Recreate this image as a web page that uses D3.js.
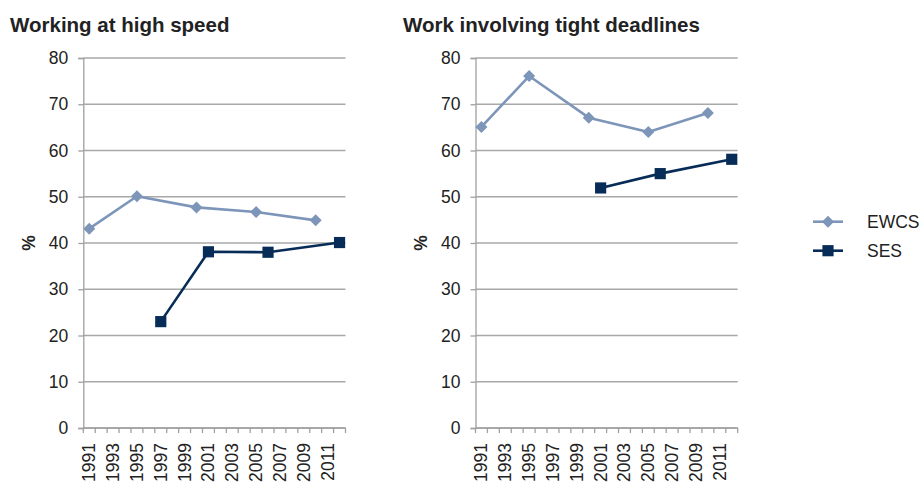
<!DOCTYPE html>
<html>
    <head>
        <meta charset="utf-8">
        <script src="https://cdn.jsdelivr.net/npm/d3@7/dist/d3.min.js"></script>
        <style type="text/css">
            body{
                margin: 0;
                padding: 0;
                background-color: #fff;
            }
            svg text{ font-family: "Liberation Sans", Arial, sans-serif; fill: #222; }
        </style>
    </head>
    <body>
        <svg id='chart' width='922' height='482'></svg>

        <script>
        /* data */
        var years = d3.range(1991, 2013);
        var yearLabels = [1991, 1993, 1995, 1997, 1999, 2001, 2003, 2005, 2007, 2009, 2011];
        var yTicks = [0, 10, 20, 30, 40, 50, 60, 70, 80];
        var titles = ['Working at high speed', 'Work involving tight deadlines'];
        var seriesNames = ['EWCS', 'SES'];

        var speedEWCS = [[1991, 43.1], [1995, 50.1], [2000, 47.7], [2005, 46.7], [2010, 44.9]];
        var speedSES = [[1997, 23.0], [2001, 38.1], [2006, 38.0], [2012, 40.1]];
        var deadlineEWCS = [[1991, 65.1], [1995, 76.1], [2000, 67.1], [2005, 64.0], [2010, 68.1]];
        var deadlineSES = [[2001, 51.9], [2006, 55.0], [2012, 58.1]];

        var colors = {EWCS: '#7c95b9', SES: '#062c57'};

        var svg = d3.select('#chart');

        drawPanel(83.3, titles[0], speedEWCS, speedSES);
        drawPanel(475.5, titles[1], deadlineEWCS, deadlineSES);
        drawLegend();

        function marker(name){
            if(name == 'EWCS') return d3.symbol().type(d3.symbolSquare).size(72)();
            return d3.symbol().type(d3.symbolSquare).size(125)();
        }

        function drawPanel(left, title, ewcs, ses){
            var top = 58, bottom = 428, w = 262.2;
            var g = svg.append('g').attr('transform', 'translate(' + left + ',0)');

            var x = d3.scaleBand().domain(years).range([0, w]).padding(0);
            var y = d3.scaleLinear().domain([0, 80]).range([bottom, top]);

            /* title */
            g.append('text')
                .attr('x', left == 83.3 ? 10 - left : 403 - left)
                .attr('y', 31.5)
                .attr('font-size', '20.5px')
                .attr('font-weight', 'bold')
                .text(title);

            /* grid */
            g.selectAll('.grid').data(yTicks).enter().append('line')
                .attr('x1', 0).attr('x2', w)
                .attr('y1', d => y(d)).attr('y2', d => y(d))
                .attr('stroke', '#a8a8a8').attr('stroke-width', 1.3);

            /* y axis */
            var ya = g.append('g')
                .call(d3.axisLeft(y).tickValues(yTicks).tickSize(5).tickPadding(10));
            ya.select('.domain').attr('stroke', '#a0a0a0').attr('stroke-width', 1.3);
            ya.selectAll('.tick line').attr('stroke', '#a0a0a0').attr('stroke-width', 1.3);
            ya.selectAll('.tick text').attr('font-size', '17.5px').attr('fill', '#222')
                .attr('font-family', '"Liberation Sans", Arial, sans-serif');

            /* x axis: ticks at the edges of each year, labels in the middle */
            g.append('line')
                .attr('x1', 0).attr('x2', w).attr('y1', bottom).attr('y2', bottom)
                .attr('stroke', '#a0a0a0').attr('stroke-width', 1.3);
            var edges = years.map(d => x(d)).concat([w]);
            g.selectAll('.xtick').data(edges).enter().append('line')
                .attr('x1', d => d).attr('x2', d => d)
                .attr('y1', bottom).attr('y2', bottom + 5)
                .attr('stroke', '#a0a0a0').attr('stroke-width', 1.3);
            g.selectAll('.xlabel').data(yearLabels).enter().append('text')
                .attr('transform', d => 'translate(' + (x(d) + x.bandwidth() / 2 + 6) + ',' + (bottom + 15) + ') rotate(-90)')
                .attr('text-anchor', 'end')
                .attr('font-size', '17.5px')
                .text(d => d);

            /* % label */
            g.append('text')
                .attr('transform', 'translate(' + (34.5 - 83.3) + ',' + ((top + bottom) / 2) + ') rotate(-90)')
                .attr('text-anchor', 'middle')
                .attr('font-size', '17.5px')
                .attr('font-weight', 'bold')
                .text('%');

            /* lines */
            var line = d3.line()
                .x(d => x(d[0]) + x.bandwidth() / 2)
                .y(d => y(d[1]));

            [['EWCS', ewcs], ['SES', ses]].forEach(function(s){
                g.append('path')
                    .attr('d', line(s[1]))
                    .attr('fill', 'none')
                    .attr('stroke', colors[s[0]])
                    .attr('stroke-width', 2.6)
                    .attr('stroke-linejoin', 'round');
                g.selectAll('.m' + s[0]).data(s[1]).enter().append('path')
                    .attr('d', marker(s[0]))
                    .attr('transform', d => 'translate(' + (x(d[0]) + x.bandwidth() / 2) + ',' + y(d[1]) + ')' + (s[0] == 'EWCS' ? ' rotate(45)' : ''))
                    .attr('fill', colors[s[0]]);
            });
        }

        function drawLegend(){
            var lg = svg.append('g');
            seriesNames.forEach(function(name, i){
                var cy = 221.7 + i * 29;
                lg.append('line')
                    .attr('x1', 813).attr('x2', 843).attr('y1', cy).attr('y2', cy)
                    .attr('stroke', colors[name]).attr('stroke-width', 2.6);
                lg.append('path')
                    .attr('d', marker(name))
                    .attr('transform', 'translate(828,' + cy + ')' + (name == 'EWCS' ? ' rotate(45)' : ''))
                    .attr('fill', colors[name]);
                lg.append('text')
                    .attr('x', 867).attr('y', cy + 6.3)
                    .attr('font-size', '17.5px')
                    .text(name);
            });
        }
        </script>
    </body>
</html>
